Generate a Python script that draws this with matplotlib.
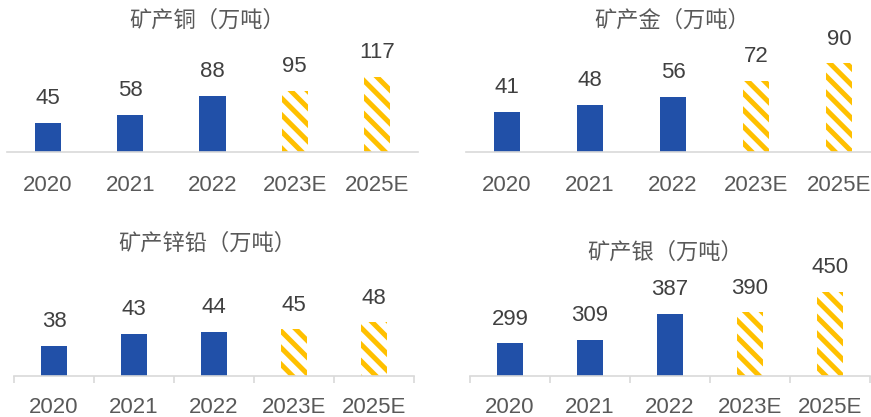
import matplotlib.pyplot as plt

plt.rcParams['font.family'] = ['Liberation Sans', 'Noto Sans CJK SC']
plt.rcParams['hatch.linewidth'] = 3.6

years = ['2020', '2021', '2022', '2023E', '2025E']
copper = [45, 58, 88, 95, 117]
gold = [41, 48, 56, 72, 90]
zinc_lead = [38, 43, 44, 45, 48]
silver = [299, 309, 387, 390, 450]
is_forecast = [False, False, False, True, True]

titles = ['矿产铜（万吨）', '矿产金（万吨）', '矿产锌铅（万吨）', '矿产银（万吨）']
series = [copper, gold, zinc_lead, silver]

BLUE = '#2150A8'
GOLD = '#FFC000'
AXIS = '#D9D9D9'
W, H = 871, 417

fig = plt.figure(figsize=(W / 100, H / 100), dpi=100)

# axes boxes in pixels: left, right, baseline, top; y-limits; title centre; boundary ticks; label pad
layout = [
    ((7, 418, 152, 40), (0, 175), (207, 20), False, 28),
    ((465.5, 880.5, 152, 40), (0, 113.7), (672, 20), False, 28),
    ((14, 414, 375.7, 270), (25.5, 70.1), (207, 243), True, 26.5),
    ((470, 870, 375.7, 270), (204, 515), (665, 252), True, 26.5),
]

for title, values, (box, ylim, tpos, boundary_ticks, pad) in zip(titles, series, layout):
    x0, x1, yb, yt = box
    ax = fig.add_axes([x0 / W, 1 - yb / H, (x1 - x0) / W, (yb - yt) / H])
    xs = list(range(len(years)))
    for i, v, f in zip(xs, values, is_forecast):
        if f:
            ax.bar(i, v, width=0.32, color='white', edgecolor=GOLD, hatch='\\\\', linewidth=0)
        else:
            ax.bar(i, v, width=0.32, color=BLUE, linewidth=0)
        ax.annotate(str(v), (i, v), xytext=(0, 13.5), textcoords='offset points',
                    ha='center', va='baseline', fontsize=16, color='#404040',
                    annotation_clip=False)
    ax.set_xlim(-0.5, len(years) - 0.5)
    ax.set_ylim(*ylim)
    ax.set_yticks([])
    ax.set_xticks(xs, years)
    for lab in ax.get_xticklabels():
        lab.set_va('baseline')
    ax.tick_params(axis='x', length=0, pad=pad, labelsize=16, labelcolor='#595959')
    if boundary_ticks:
        ax.set_xticks([i - 0.5 for i in range(len(years) + 1)], minor=True)
        ax.tick_params(axis='x', which='minor', length=5, width=1.2, color=AXIS)
    for side in ['top', 'left', 'right']:
        ax.spines[side].set_visible(False)
    ax.spines['bottom'].set_color(AXIS)
    ax.spines['bottom'].set_linewidth(1.2)
    ax.patch.set_visible(False)
    fig.text(tpos[0] / W, 1 - tpos[1] / H, title, ha='center', va='center',
             fontsize=16, color='#595959', family=['Noto Sans CJK SC'])

fig.savefig('out.png', dpi=100)
